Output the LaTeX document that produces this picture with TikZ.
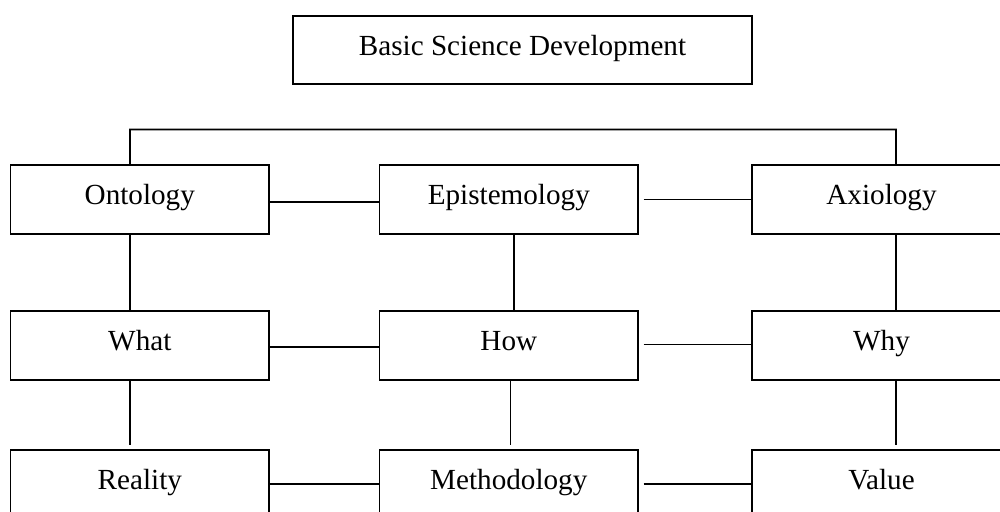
\documentclass[tikz,border=0pt]{standalone}
\usepackage{fontspec}
\setmainfont{Liberation Serif}
\usetikzlibrary{calc}
\tikzset{
  box/.style={draw, line width=0.9pt, rectangle, inner sep=0pt,
    minimum width=5.18cm, minimum height=1.38cm,
    font=\fontsize{16.6}{20}\selectfont, text height=11.3pt, text depth=5.1pt},
  wide/.style={box, minimum width=9.18cm, minimum height=1.36cm},
  link/.style={line width=0.9pt}
}
\begin{document}
\begin{tikzpicture}[x=0.02cm, y=-0.02cm]
\useasboundingbox (0,0) rectangle (1000,511);
\clip (0,0) rectangle (1000,511);
\fill[white] (0,0) rectangle (1000,511);
% nodes
\node[wide] (top) at (522.5,50) {Basic Science Development};
\node[box] (ont) at (139.8,199.5) {Ontology};
\node[box] (epi) at (508.8,199.5) {Epistemology};
\node[box] (axi) at (881.5,199.5) {Axiology};
\node[box] (what) at (139.8,345.5) {What};
\node[box] (how) at (508.8,345.5) {How};
\node[box] (why) at (881.5,345.5) {Why};
\node[box] (rea) at (139.8,484.5) {Reality};
\node[box] (met) at (508.8,484.5) {Methodology};
\node[box] (val) at (881.5,484.5) {Value};
% bus
\coordinate (busL) at (130,129.5);
\coordinate (busR) at (896,129.5);
\draw[link] ($(top.south)+(-8.5,0)$) -- ($(top.south)+(-8.5,0)$ |- busL);
\draw[link] ($(ont.north)+(-9.8,0)$) |- (busR) -- ($(axi.north)+(14.5,0)$);
\draw[link] ($(epi.north)+(5.2,0)$) -- ($(epi.north)+(5.2,0)$ |- busL);
% verticals row1 -> row2
\draw[link] ($(ont.south)+(-9.8,0)$) -- ($(what.north)+(-9.8,0)$);
\draw[link] ($(epi.south)+(5.2,0)$) -- ($(how.north)+(5.2,0)$);
\draw[link] ($(axi.south)+(14.5,0)$) -- ($(why.north)+(14.5,0)$);
% verticals row2 -> row3
\draw[link] ($(what.south)+(-9.8,0)$) -- ($(rea.north)+(-9.8,-4.3)$);
\draw[link] ($(how.south)+(1.9,0)$) -- ($(met.north)+(1.9,-4.3)$);
\draw[link] ($(why.south)+(14.5,0)$) -- ($(val.north)+(14.5,-4.3)$);
% horizontals
\draw[link] ($(ont.east)+(0,2.5)$) -- ($(epi.west)+(0,2.5)$);
\draw[link] ($(epi.east)+(4.5,0)$) -- (axi.west);
\draw[link] ($(what.east)+(0,1.5)$) -- ($(how.west)+(0,1.5)$);
\draw[link] ($(how.east)+(4.5,-0.8)$) -- ($(why.west)+(0,-0.8)$);
\draw[link] ($(rea.east)+(0,-0.8)$) -- ($(met.west)+(0,-0.8)$);
\draw[link] ($(met.east)+(4.5,-0.8)$) -- ($(val.west)+(0,-0.8)$);
\end{tikzpicture}
\end{document}
